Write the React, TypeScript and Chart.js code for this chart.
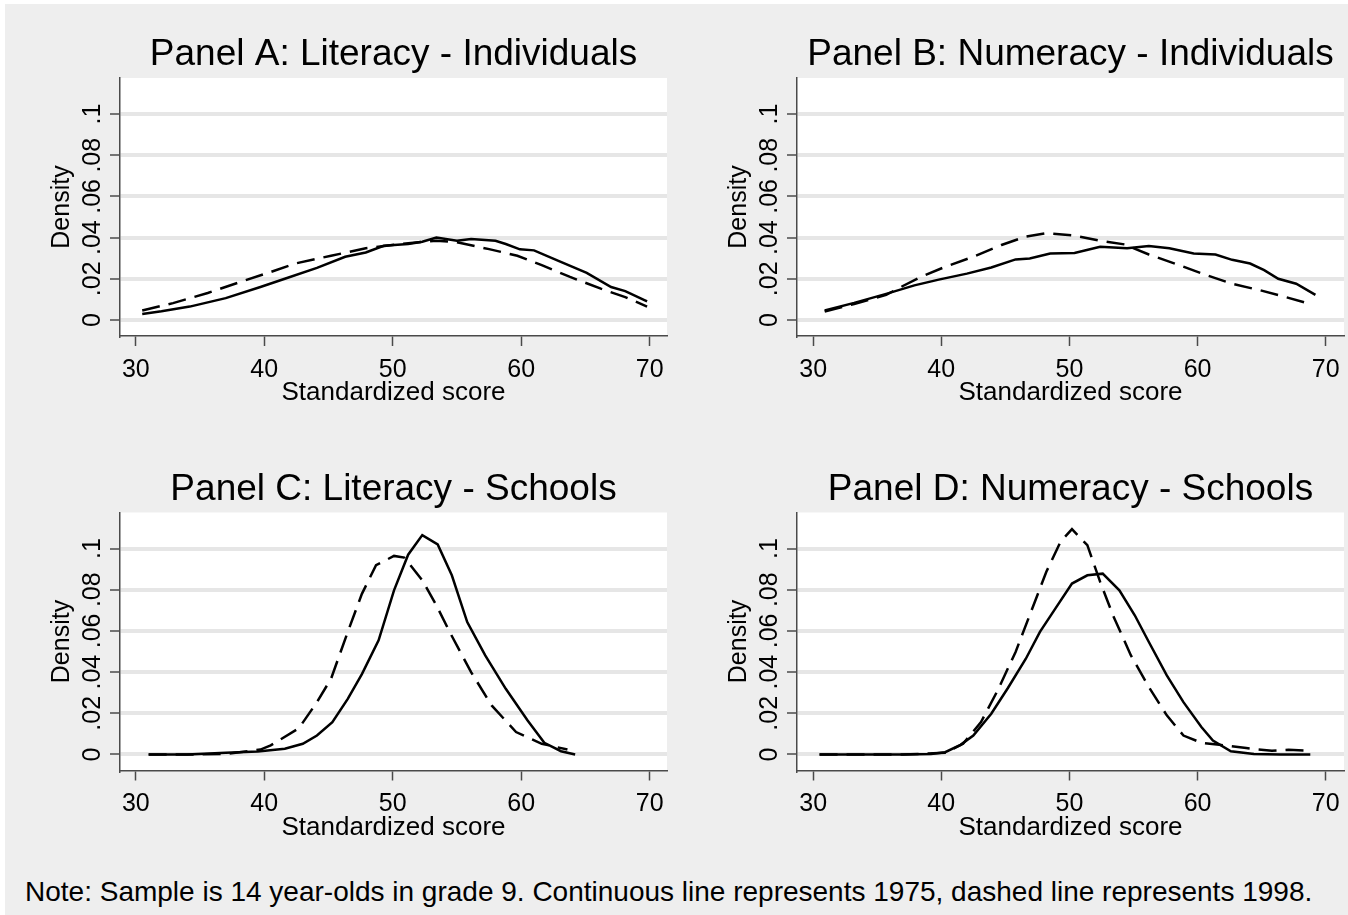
import React, { useEffect, useRef } from 'react';
import { Chart, registerables } from 'chart.js';

Chart.register(...registerables);

// ---------- data ----------
const xTicks = [30, 40, 50, 60, 70];
const xTickLabels = ['30', '40', '50', '60', '70'];
const yTicks = [0, 0.02, 0.04, 0.06, 0.08, 0.1];
const yTickLabels = ['0', '.02', '.04', '.06', '.08', '.1'];

const panelTitles = [
  'Panel A: Literacy - Individuals',
  'Panel B: Numeracy - Individuals',
  'Panel C: Literacy - Schools',
  'Panel D: Numeracy - Schools',
];
const xAxisTitle = 'Standardized score';
const yAxisTitle = 'Density';
const noteText =
  'Note: Sample is 14 year-olds in grade 9. Continuous line represents 1975, dashed line represents 1998.';

// Panel A: Literacy - Individuals
const panelA_x1975 = [30.5, 32.0, 34.2, 37.0, 39.7, 41.6, 44.1, 46.3, 47.9, 49.3, 51.2, 52.3, 53.4, 55.0, 56.1, 58.0, 58.8, 59.9, 61.0, 62.9, 65.1, 67.0, 68.1, 69.8];
const panelA_y1975 = [0.0029, 0.0042, 0.0065, 0.0106, 0.016, 0.020, 0.0253, 0.0307, 0.0328, 0.036, 0.0369, 0.038, 0.040, 0.0385, 0.0393, 0.0385, 0.0369, 0.0343, 0.0338, 0.0287, 0.0229, 0.016, 0.014, 0.009];
const panelA_x1998 = [30.5, 32.9, 35.6, 38.3, 40.5, 42.4, 45.2, 47.9, 50.6, 53.4, 55.0, 57.5, 59.7, 61.6, 63.8, 66.2, 68.1, 69.8];
const panelA_y1998 = [0.0046, 0.0082, 0.0131, 0.0188, 0.0233, 0.0274, 0.0312, 0.0348, 0.0369, 0.0385, 0.0377, 0.0344, 0.0312, 0.0266, 0.0209, 0.0152, 0.0111, 0.0065];

// Panel B: Numeracy - Individuals
const panelB_x1975 = [30.9, 33.2, 35.7, 37.9, 39.8, 42.0, 43.9, 45.8, 46.9, 48.5, 50.4, 52.4, 54.5, 56.2, 57.8, 59.7, 61.4, 62.7, 64.1, 65.2, 66.3, 67.7, 69.2];
const panelB_y1975 = [0.0046, 0.0083, 0.0127, 0.0168, 0.0196, 0.0225, 0.0255, 0.0294, 0.0299, 0.0323, 0.0325, 0.0356, 0.0348, 0.0359, 0.0348, 0.0323, 0.0318, 0.0292, 0.0274, 0.0242, 0.020, 0.0176, 0.0122];
const panelB_x1998 = [30.9, 33.2, 35.7, 37.0, 38.4, 40.3, 42.5, 44.7, 46.6, 48.2, 50.4, 52.4, 54.3, 56.2, 58.4, 60.6, 62.7, 64.9, 66.9, 68.5];
const panelB_y1998 = [0.0041, 0.0078, 0.0122, 0.0165, 0.0209, 0.0258, 0.0307, 0.0364, 0.0405, 0.0421, 0.041, 0.0385, 0.0367, 0.0318, 0.027, 0.022, 0.0176, 0.0144, 0.0111, 0.0083];

// Panel C: Literacy - Schools
const panelC_x1975 = [31.0, 34.0, 37.0, 39.5, 41.6, 43.0, 44.1, 45.3, 46.5, 47.6, 48.9, 50.1, 51.2, 52.3, 53.5, 54.6, 55.8, 57.2, 58.8, 60.5, 61.8, 63.1, 64.2];
const panelC_y1975 = [0, 0, 0.0008, 0.0015, 0.0028, 0.0052, 0.0092, 0.0157, 0.027, 0.039, 0.0554, 0.0797, 0.097, 0.1065, 0.102, 0.087, 0.0643, 0.0481, 0.0319, 0.0165, 0.0057, 0.0016, 0];
const panelC_x1998 = [31.0, 34.0, 37.0, 39.7, 40.5, 42.7, 44.1, 45.2, 46.5, 47.6, 48.7, 50.1, 50.9, 52.3, 53.4, 54.5, 56.1, 57.7, 59.6, 61.6, 63.6];
const panelC_y1998 = [0, 0, 0.0003, 0.0024, 0.0044, 0.0128, 0.0254, 0.0368, 0.0595, 0.078, 0.0919, 0.0964, 0.0956, 0.0846, 0.0724, 0.0587, 0.04, 0.0238, 0.0109, 0.0052, 0.0024];

// Panel D: Numeracy - Schools
const panelD_x1975 = [30.5, 34.0, 37.0, 39.2, 40.3, 41.5, 42.5, 43.9, 45.2, 46.6, 47.7, 48.9, 50.2, 51.4, 52.6, 53.9, 55.1, 56.2, 57.6, 58.9, 60.3, 61.2, 62.6, 64.4, 66.5, 68.8];
const panelD_y1975 = [0, 0, 0, 0.0003, 0.0011, 0.0047, 0.0092, 0.0198, 0.0323, 0.0465, 0.0595, 0.0708, 0.083, 0.087, 0.0878, 0.0797, 0.0676, 0.0546, 0.0384, 0.0254, 0.0133, 0.0068, 0.0016, 0.0003, 0, 0];
const panelD_x1998 = [30.5, 34.0, 37.0, 40.3, 41.7, 43.1, 44.4, 45.8, 46.9, 48.2, 49.3, 50.2, 51.4, 52.4, 53.4, 54.8, 56.2, 57.6, 58.9, 60.3, 61.7, 63.8, 65.8, 67.1, 68.8];
const panelD_y1998 = [0, 0, 0, 0.0008, 0.0052, 0.0157, 0.0311, 0.0498, 0.0676, 0.0887, 0.1032, 0.1094, 0.1016, 0.0838, 0.0676, 0.0481, 0.0327, 0.019, 0.0092, 0.0057, 0.0047, 0.0031, 0.0018, 0.0023, 0.0018];

const seriesX1975 = [panelA_x1975, panelB_x1975, panelC_x1975, panelD_x1975];
const seriesY1975 = [panelA_y1975, panelB_y1975, panelC_y1975, panelD_y1975];
const seriesX1998 = [panelA_x1998, panelB_x1998, panelC_x1998, panelD_x1998];
const seriesY1998 = [panelA_y1998, panelB_y1998, panelC_y1998, panelD_y1998];

// ---------- layout & style ----------
const FONT = '"Liberation Sans", Arial, Helvetica, sans-serif';
const BG = '#eeeeee';
const GRID = '#e6e6e6';
const AXIS = '#4a4a4a';
const Y_MIN = -0.00777;
const Y_MAX = 0.11748;

type Layout = {
  canvas: { left: number; top: number; width: number; height: number };
  plot: { left: number; right: number; top: number; bottom: number };
  xMin: number;
  xMax: number;
};

const LAYOUTS: Layout[] = [
  { canvas: { left: 5, top: 4, width: 669, height: 430 }, plot: { left: 120, right: 667, top: 78, bottom: 336 }, xMin: 28.77, xMax: 71.35 },
  { canvas: { left: 674, top: 4, width: 674, height: 430 }, plot: { left: 797, right: 1344, top: 78, bottom: 336 }, xMin: 28.74, xMax: 71.43 },
  { canvas: { left: 5, top: 434, width: 669, height: 434 }, plot: { left: 120, right: 667, top: 512.5, bottom: 770.5 }, xMin: 28.77, xMax: 71.35 },
  { canvas: { left: 674, top: 434, width: 674, height: 434 }, plot: { left: 797, right: 1344, top: 512.5, bottom: 770.5 }, xMin: 28.74, xMax: 71.43 },
];

function zip(xs: number[], ys: number[]) {
  return xs.map((x, i) => ({ x, y: ys[i] }));
}

function makePlugins(title: string) {
  const bgPlugin = {
    id: 'plotBg',
    beforeDraw(chart: any) {
      const { ctx, chartArea } = chart;
      ctx.save();
      ctx.fillStyle = '#ffffff';
      ctx.fillRect(chartArea.left, chartArea.top, chartArea.right - chartArea.left, chartArea.bottom - chartArea.top);
      ctx.restore();
    },
  };
  const textPlugin = {
    id: 'panelText',
    afterDraw(chart: any) {
      const { ctx, chartArea, scales } = chart;
      const cx = (chartArea.left + chartArea.right) / 2;
      const cy = (chartArea.top + chartArea.bottom) / 2;
      ctx.save();
      ctx.fillStyle = '#000000';
      ctx.textBaseline = 'alphabetic';
      ctx.textAlign = 'center';
      ctx.font = `37px ${FONT}`;
      ctx.fillText(title, cx, chartArea.top - 13);
      ctx.font = `25px ${FONT}`;
      xTicks.forEach((v, i) => {
        ctx.fillText(xTickLabels[i], scales.x.getPixelForValue(v), chartArea.bottom + 40.5);
      });
      ctx.font = `26px ${FONT}`;
      ctx.fillText(xAxisTitle, cx, chartArea.bottom + 64);
      ctx.font = `25px ${FONT}`;
      yTicks.forEach((v, i) => {
        ctx.save();
        ctx.translate(chartArea.left - 20, scales.y.getPixelForValue(v));
        ctx.rotate(-Math.PI / 2);
        ctx.fillText(yTickLabels[i], 0, 0);
        ctx.restore();
      });
      ctx.save();
      ctx.translate(chartArea.left - 51, cy);
      ctx.rotate(-Math.PI / 2);
      ctx.fillText(yAxisTitle, 0, 0);
      ctx.restore();
      ctx.restore();
    },
  };
  return [bgPlugin, textPlugin];
}

function Panel({ index }: { index: number }) {
  const ref = useRef<HTMLCanvasElement | null>(null);
  const lay = LAYOUTS[index];
  useEffect(() => {
    if (!ref.current) return;
    const c = lay.canvas;
    const p = lay.plot;
    const chart = new Chart(ref.current, {
      type: 'line',
      data: {
        datasets: [
          {
            label: '1975',
            data: zip(seriesX1975[index], seriesY1975[index]),
            borderColor: '#000000',
            borderWidth: 2.5,
            pointRadius: 0,
            tension: 0,
            fill: false,
          },
          {
            label: '1998',
            data: zip(seriesX1998[index], seriesY1998[index]),
            borderColor: '#000000',
            borderWidth: 2.5,
            borderDash: [18, 9],
            pointRadius: 0,
            tension: 0,
            fill: false,
          },
        ],
      },
      options: {
        animation: false,
        responsive: false,
        maintainAspectRatio: false,
        events: [],
        layout: {
          padding: {
            top: p.top - c.top,
            right: c.left + c.width - p.right,
            left: 0,
            bottom: 0,
          },
        },
        plugins: {
          legend: { display: false },
          tooltip: { enabled: false },
          title: { display: false },
        },
        scales: {
          x: {
            type: 'linear',
            min: lay.xMin,
            max: lay.xMax,
            afterBuildTicks: (s: any) => {
              s.ticks = xTicks.map((v) => ({ value: v }));
            },
            afterFit: (s: any) => {
              s.height = c.top + c.height - p.bottom;
            },
            ticks: { display: false },
            grid: {
              drawOnChartArea: false,
              drawTicks: true,
              tickLength: 10,
              tickColor: AXIS,
              tickWidth: 1.5,
              color: 'rgba(0,0,0,0)',
            },
            border: { display: true, color: AXIS, width: 1.5 },
          },
          y: {
            type: 'linear',
            min: Y_MIN,
            max: Y_MAX,
            afterBuildTicks: (s: any) => {
              s.ticks = yTicks.map((v) => ({ value: v }));
            },
            afterFit: (s: any) => {
              s.width = p.left - c.left;
            },
            ticks: { display: false },
            grid: {
              color: GRID,
              lineWidth: 4,
              drawTicks: true,
              tickLength: 10,
              tickColor: AXIS,
              tickWidth: 1.5,
            },
            border: { display: true, color: AXIS, width: 1.5 },
          },
        },
      } as any,
      plugins: makePlugins(panelTitles[index]) as any,
    });
    return () => chart.destroy();
  }, [index]);
  return (
    <canvas
      ref={ref}
      width={lay.canvas.width}
      height={lay.canvas.height}
      style={{
        position: 'absolute',
        left: lay.canvas.left,
        top: lay.canvas.top,
        width: lay.canvas.width,
        height: lay.canvas.height,
      }}
    />
  );
}

export default function App() {
  useEffect(() => {
    document.body.style.margin = '0';
  }, []);
  return (
    <div style={{ position: 'absolute', left: 0, top: 0, width: 1348, height: 915, background: '#ffffff', overflow: 'hidden' }}>
      <div style={{ position: 'absolute', left: 5, top: 4, right: 0, bottom: 0, background: BG }} />
      {[0, 1, 2, 3].map((i) => (
        <Panel key={i} index={i} />
      ))}
      <div
        style={{
          position: 'absolute',
          left: 25,
          top: 878,
          fontFamily: FONT,
          fontSize: 28,
          lineHeight: '28px',
          color: '#000',
          whiteSpace: 'nowrap',
        }}
      >
        {noteText}
      </div>
    </div>
  );
}
